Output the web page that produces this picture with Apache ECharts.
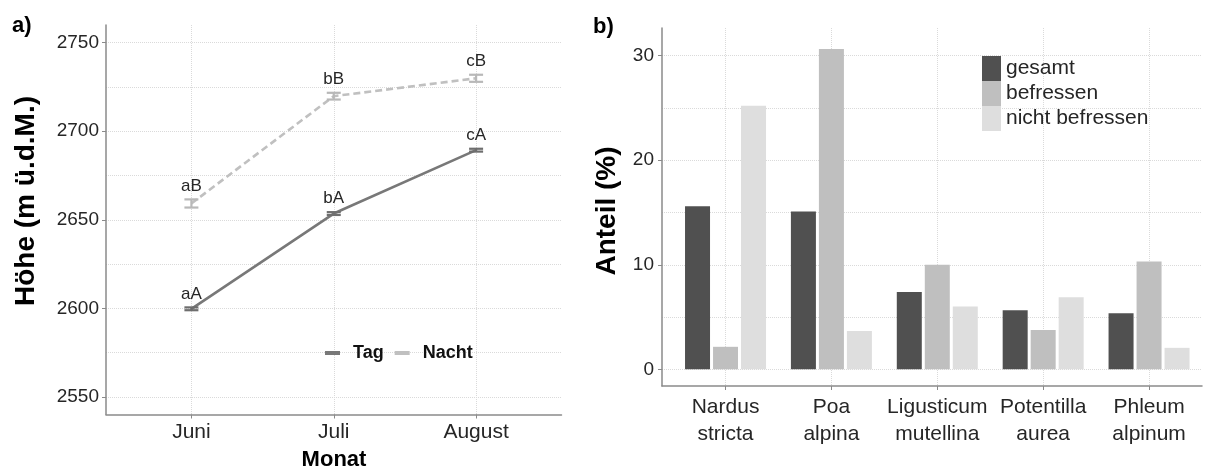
<!DOCTYPE html>
<html>
<head>
<meta charset="utf-8">
<script src="https://cdn.jsdelivr.net/npm/echarts@6/dist/echarts.min.js"></script>
<style>
html,body{margin:0;padding:0;background:#fff;}
#main{width:1208px;height:468px;}
</style>
</head>
<body>
<div id="main"></div>
<script>
// ---- Panel a) data ----
const months = ['Juni', 'Juli', 'August'];
const tagMean = [2599.7, 2653.5, 2689.3];
const tagErr = [0.8, 0.8, 0.8];
const tagLabels = ['aA', 'bA', 'cA'];
const nachtMean = [2659.2, 2719.8, 2729.9];
const nachtErr = [2.3, 1.9, 2.0];
const nachtLabels = ['aB', 'bB', 'cB'];
const leftYTicks = [2550, 2600, 2650, 2700, 2750];
const leftYGrid = [2550, 2575, 2600, 2625, 2650, 2675, 2700, 2725, 2750];

// ---- Panel b) data ----
const species = ['Nardus\nstricta', 'Poa\nalpina', 'Ligusticum\nmutellina', 'Potentilla\naurea', 'Phleum\nalpinum'];
const gesamt = [15.6, 15.1, 7.4, 5.65, 5.35];
const befressen = [2.15, 30.65, 10.0, 3.75, 10.3];
const nichtBefressen = [25.2, 3.65, 6.0, 6.9, 2.05];
const rightYTicks = [0, 10, 20, 30];
const rightYGrid = [0, 5, 10, 15, 20, 25, 30];

const FONT = '"Liberation Sans", Arial, Helvetica, sans-serif';
const AXC = '#8a8a8a';
const GRIDC = '#dadada';
const TXT = '#262626';

const monthIdx = months.map((m, i) => i);
const speciesIdx = species.map((s, i) => i);

function errSeries(name, means, errs, labels, color) {
  return {
    type: 'custom',
    name: name + '_err',
    xAxisIndex: 0, yAxisIndex: 0,
    z: 5,
    data: means.map((m, i) => [i, m, errs[i]]),
    encode: { x: 0, y: 1 },
    renderItem: function (params, api) {
      const x = api.value(0), m = api.value(1), e = api.value(2);
      const top = api.coord([x, m + e]);
      const bot = api.coord([x, m - e]);
      const hw = 7;
      const ls = { stroke: color, lineWidth: 2.2 };
      return {
        type: 'group',
        children: [
          { type: 'line', shape: { x1: top[0], y1: top[1], x2: bot[0], y2: bot[1] }, style: ls },
          { type: 'line', shape: { x1: top[0] - hw, y1: top[1], x2: top[0] + hw, y2: top[1] }, style: ls },
          { type: 'line', shape: { x1: bot[0] - hw, y1: bot[1], x2: bot[0] + hw, y2: bot[1] }, style: ls },
          { type: 'text', x: top[0], y: top[1] - 5,
            style: { text: labels[params.dataIndex], textAlign: 'center', textVerticalAlign: 'bottom',
                     font: '17px ' + FONT, fill: TXT } }
        ]
      };
    }
  };
}

const plain = v => String(v);

const chart = echarts.init(document.getElementById('main'), null, { renderer: 'canvas' });
chart.setOption({
  animation: false,
  backgroundColor: '#ffffff',
  textStyle: { fontFamily: FONT },
  grid: [
    { left: 106, right: 646.5, top: 25, bottom: 53.5 },
    { left: 662, right: 6, top: 28, bottom: 82 }
  ],
  xAxis: [
    {
      gridIndex: 0, type: 'value', min: -0.6, max: 2.6,
      axisLine: { show: true, onZero: false, lineStyle: { color: AXC, width: 1.5 } },
      axisTick: { show: true, length: 4, customValues: monthIdx, lineStyle: { color: AXC } },
      axisLabel: { customValues: monthIdx, formatter: v => months[Math.round(v)],
                   fontSize: 21, color: TXT, margin: 7, fontFamily: FONT },
      splitLine: { show: true, lineStyle: { type: 'dotted', color: GRIDC, width: 1 } }
    },
    {
      gridIndex: 1, type: 'value', min: -0.6, max: 4.5,
      axisLine: { show: true, onZero: false, lineStyle: { color: AXC, width: 1.5 } },
      axisTick: { show: true, length: 4, customValues: speciesIdx, lineStyle: { color: AXC } },
      axisLabel: { customValues: speciesIdx, formatter: v => species[Math.round(v)],
                   fontSize: 21, lineHeight: 27, color: TXT, margin: 8, fontFamily: FONT },
      splitLine: { show: true, lineStyle: { type: 'dotted', color: GRIDC, width: 1 } }
    }
  ],
  yAxis: [
    {
      gridIndex: 0, type: 'value', min: 2540, max: 2760, position: 'left',
      axisLine: { show: true, onZero: false, lineStyle: { color: AXC, width: 1.5 } },
      axisTick: { show: false, customValues: leftYGrid },
      axisLabel: { customValues: leftYTicks, formatter: plain, fontSize: 19, color: TXT, margin: 7, fontFamily: FONT },
      splitLine: { show: true, lineStyle: { type: 'dotted', color: GRIDC, width: 1 } }
    },
    {
      gridIndex: 0, type: 'value', min: 2540, max: 2760, position: 'left',
      axisLine: { show: false, onZero: false },
      axisTick: { show: true, length: 4, customValues: leftYTicks, lineStyle: { color: AXC } },
      axisLabel: { show: false },
      splitLine: { show: false }
    },
    {
      gridIndex: 1, type: 'value', min: -1.6, max: 32.65, position: 'left',
      axisLine: { show: true, onZero: false, lineStyle: { color: AXC, width: 1.5 } },
      axisTick: { show: false, customValues: rightYGrid },
      axisLabel: { customValues: rightYTicks, formatter: plain, fontSize: 19, color: TXT, margin: 8, fontFamily: FONT },
      splitLine: { show: true, lineStyle: { type: 'dotted', color: GRIDC, width: 1 } }
    },
    {
      gridIndex: 1, type: 'value', min: -1.6, max: 32.65, position: 'left',
      axisLine: { show: false, onZero: false },
      axisTick: { show: true, length: 4, customValues: rightYTicks, lineStyle: { color: AXC } },
      axisLabel: { show: false },
      splitLine: { show: false }
    }
  ],
  legend: [
    {
      data: [{ name: 'Tag', icon: 'rect' }, { name: 'Nacht', icon: 'rect' }],
      left: 325, top: 344, orient: 'horizontal', padding: 0,
      itemWidth: 15, itemHeight: 4, itemGap: 11,
      formatter: n => '{t|' + n + '}',
      textStyle: { fontSize: 18, fontWeight: 'bold', color: '#111', fontFamily: FONT,
                   rich: { t: { fontSize: 18, fontWeight: 'bold', color: '#111', padding: [0, 0, 0, 8], fontFamily: FONT } } }
    },
    {
      data: [{ name: 'gesamt', icon: 'rect' }, { name: 'befressen', icon: 'rect' }, { name: 'nicht befressen', icon: 'rect' }],
      left: 982, top: 56, orient: 'vertical', padding: 0,
      itemWidth: 19, itemHeight: 25, itemGap: 0,
      textStyle: { fontSize: 21, color: TXT, fontFamily: FONT }
    }
  ],
  graphic: [
    { type: 'text', x: 12, y: 26, style: { text: 'a)', font: 'bold 22px ' + FONT, fill: '#000', textVerticalAlign: 'middle' } },
    { type: 'text', x: 593, y: 27, style: { text: 'b)', font: 'bold 22px ' + FONT, fill: '#000', textVerticalAlign: 'middle' } },
    { type: 'text', x: 26, y: 201, rotation: Math.PI / 2,
      style: { text: 'Höhe (m ü.d.M.)', font: 'bold 28px ' + FONT, fill: '#000', textAlign: 'center', textVerticalAlign: 'middle' } },
    { type: 'text', x: 607, y: 211, rotation: Math.PI / 2,
      style: { text: 'Anteil (%)', font: 'bold 28px ' + FONT, fill: '#000', textAlign: 'center', textVerticalAlign: 'middle' } },
    { type: 'text', x: 334, y: 460,
      style: { text: 'Monat', font: 'bold 22px ' + FONT, fill: '#000', textAlign: 'center', textVerticalAlign: 'middle' } }
  ],
  series: [
    {
      name: 'Nacht', type: 'line', xAxisIndex: 0, yAxisIndex: 0,
      data: nachtMean.map((v, i) => [i, v]),
      symbol: 'none',
      lineStyle: { color: '#c0c0c0', width: 2.6, type: [7, 4] },
      itemStyle: { color: '#c0c0c0' }, z: 3
    },
    {
      name: 'Tag', type: 'line', xAxisIndex: 0, yAxisIndex: 0,
      data: tagMean.map((v, i) => [i, v]),
      symbol: 'none',
      lineStyle: { color: '#787878', width: 2.6 },
      itemStyle: { color: '#787878' }, z: 3
    },
    errSeries('Nacht', nachtMean, nachtErr, nachtLabels, '#b8b8b8'),
    errSeries('Tag', tagMean, tagErr, tagLabels, '#6e6e6e'),
    {
      name: 'gesamt', type: 'bar', xAxisIndex: 1, yAxisIndex: 2,
      data: gesamt.map((v, i) => [i, v]),
      barWidth: 25, barGap: '12%',
      itemStyle: { color: '#505050' }
    },
    {
      name: 'befressen', type: 'bar', xAxisIndex: 1, yAxisIndex: 2,
      data: befressen.map((v, i) => [i, v]),
      barWidth: 25, barGap: '12%',
      itemStyle: { color: '#bfbfbf' }
    },
    {
      name: 'nicht befressen', type: 'bar', xAxisIndex: 1, yAxisIndex: 2,
      data: nichtBefressen.map((v, i) => [i, v]),
      barWidth: 25, barGap: '12%',
      itemStyle: { color: '#dedede' }
    }
  ]
});
</script>
</body>
</html>
